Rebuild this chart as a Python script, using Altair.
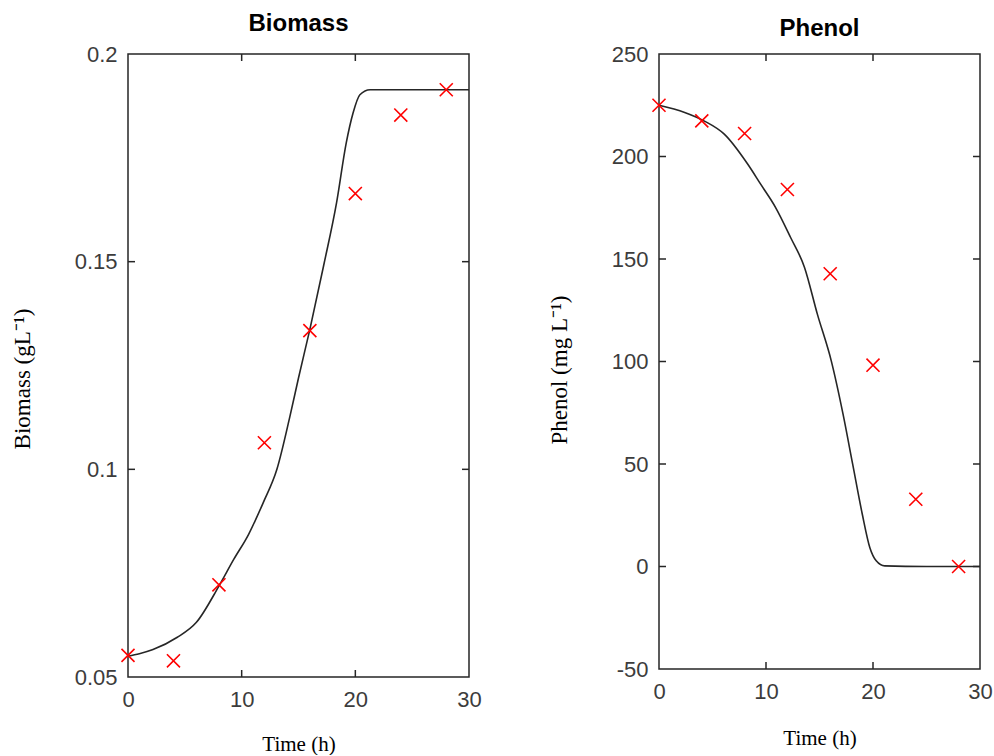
import altair as alt
import pandas as pd

# ---- data ----
time_obs = [0, 4, 8, 12, 16, 20, 24, 28]
biomass_obs = [0.0552, 0.0539, 0.0722, 0.1064, 0.1334, 0.1664, 0.1853, 0.1914]
phenol_obs = [225.0, 217.4, 211.2, 183.9, 142.8, 98.2, 32.8, 0.0]

biomass_model_t = [0, 1, 2.2, 4.3, 6, 8, 9.3, 10.6, 11.9, 13.1, 14.25, 15, 16,
                   17.2, 18.35, 19.2, 19.8, 20.4, 21.3, 25, 30]
biomass_model = [0.0550, 0.0556, 0.0566, 0.0595, 0.0631, 0.0719, 0.0783, 0.0843,
                 0.0920, 0.1000, 0.1128, 0.1220, 0.1337, 0.1489, 0.1642, 0.1786,
                 0.1858, 0.1902, 0.1914, 0.1914, 0.1914]

phenol_model_t = [0, 2.4, 4.2, 6.1, 8.3, 9.5, 10.9, 12.3, 13.6, 14.8, 16.1, 17.2,
                  18.1, 19.0, 19.7, 20.3, 21.1, 25, 30]
phenol_model = [225.0, 221.5, 217.4, 210.9, 196.2, 186.5, 175.1, 160.5, 145.9,
                123.1, 100.3, 74.3, 49.9, 25.5, 9.3, 2.8, 0.3, 0.0, 0.0]

x_ticks = [0, 10, 20, 30]
biomass_ticks = [0.05, 0.1, 0.15, 0.2]
phenol_ticks = [-50, 0, 50, 100, 150, 200, 250]

AX = "#262626"
TICK_LEN = 7
LABEL = "'' + datum.value"


def panel(title, obs_vals, model_t, model_vals, ydomain, yticks, ytitle, w, h,
          toffset, xtpad, ytitle_shift):
    obs = pd.DataFrame({"t": time_obs, "v": obs_vals})
    mod = pd.DataFrame({"t": model_t, "v": model_vals})
    xs = alt.Scale(domain=[0, 30], nice=False, zero=False)
    ys = alt.Scale(domain=ydomain, nice=False, zero=False)
    xax = alt.Axis(values=x_ticks, title="Time (h)", labelPadding=12,
                   titlePadding=xtpad, labelExpr=LABEL)
    yax = alt.Axis(values=yticks, title=ytitle, labelPadding=11,
                   titlePadding=40, labelExpr=LABEL, titleFontSize=23,
                   titleY=h / 2 + ytitle_shift)
    X = alt.X("t:Q", scale=xs, axis=xax)
    Y = alt.Y("v:Q", scale=ys, axis=yax)

    line = alt.Chart(mod).mark_line(
        color=AX, strokeWidth=1.6, interpolate="monotone").encode(x=X, y=Y)
    pts = alt.Chart(obs).mark_point(
        shape="M-1,-1L1,1M-1,1L1,-1", size=170, color="#ff0000",
        strokeWidth=1.6, filled=False, opacity=1,
    ).encode(x=X, y=Y)

    xt = pd.DataFrame({"t": x_ticks[1:-1]})
    yt = pd.DataFrame({"v": yticks[1:-1]})
    tick = dict(color=AX, strokeWidth=1.5)
    bottom = alt.Chart(xt).mark_rule(**tick).encode(
        x=X, y=alt.value(h), y2=alt.value(h - TICK_LEN))
    top = alt.Chart(xt).mark_rule(**tick).encode(
        x=X, y=alt.value(0), y2=alt.value(TICK_LEN))
    left = alt.Chart(yt).mark_rule(**tick).encode(
        y=Y, x=alt.value(0), x2=alt.value(TICK_LEN))
    right = alt.Chart(yt).mark_rule(**tick).encode(
        y=Y, x=alt.value(w), x2=alt.value(w - TICK_LEN))

    return alt.layer(line, pts, bottom, top, left, right).properties(
        width=w, height=h,
        title=alt.TitleParams(title, offset=toffset),
    )


p1 = panel("Biomass", biomass_obs, biomass_model_t, biomass_model,
           [0.05, 0.2], biomass_ticks, "Biomass (gL⁻¹)", 341, 623, 7, 23, 13)
p2 = panel("Phenol", phenol_obs, phenol_model_t, phenol_model,
           [-50, 250], phenol_ticks, "Phenol (mg L⁻¹)", 321, 615, 2, 25, 8)

chart = alt.hconcat(p1, p2, spacing=65).properties(
    padding={"left": 10, "top": 11, "right": 0, "bottom": 0},
    background="white",
).configure_view(
    stroke=AX, strokeWidth=1.5
).configure_axis(
    labelFont="Liberation Sans", labelFontSize=22, labelColor="#3c3c3c",
    titleFont="Liberation Serif", titleFontSize=21, titleFontWeight="normal",
    titleColor="black", domain=False, ticks=False, grid=False,
    labelFlush=False, labelOverlap=False,
).configure_title(
    font="Liberation Sans", fontSize=24, fontWeight="bold", color="black",
    anchor="middle",
)

chart.save("out.html", embed_options={"renderer": "svg", "actions": False})
